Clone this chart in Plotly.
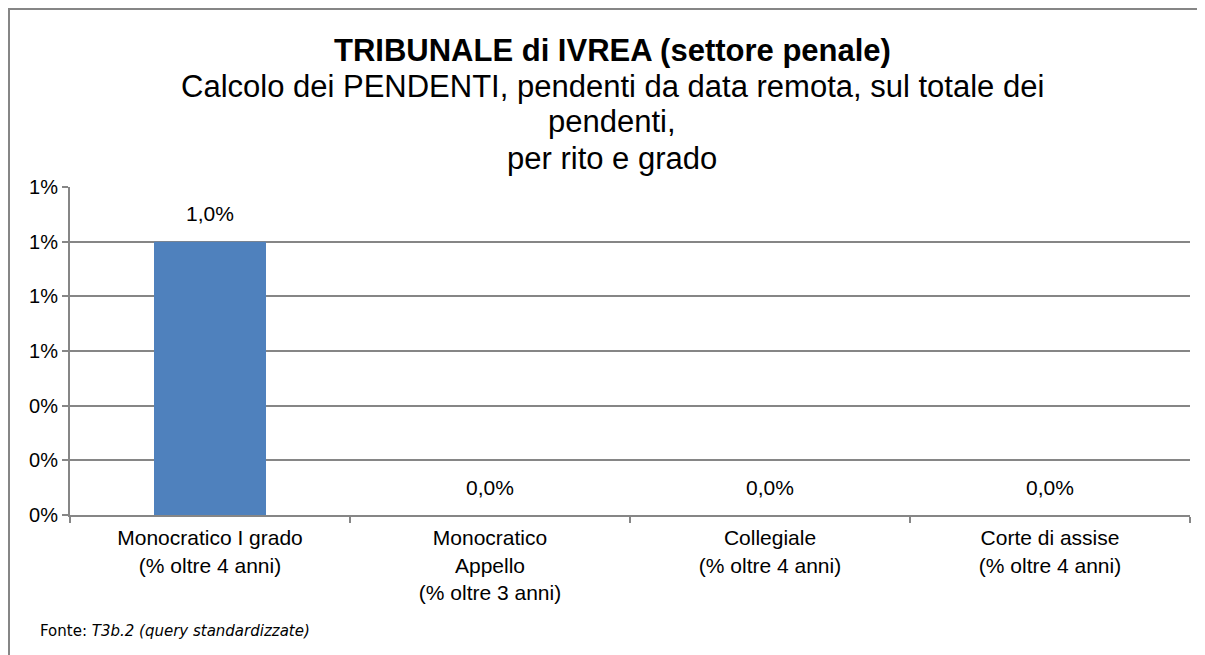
import plotly.graph_objects as go

categories = [
    "Monocratico I grado<br>(% oltre 4 anni)",
    "Monocratico<br>Appello<br>(% oltre 3 anni)",
    "Collegiale<br>(% oltre 4 anni)",
    "Corte di assise<br>(% oltre 4 anni)",
]
values = [0.010, 0.0, 0.0, 0.0]
y_tickvals = [0, 0.002, 0.004, 0.006, 0.008, 0.010, 0.012]

# page has an 8px body margin; figure sized to fit the window
OFF = 8
W, H = 1197, 647
L, T = 62, 179          # plot area left/top in figure px
PLOT_R, PLOT_B = 1182, 507
R, B = W - PLOT_R, H - PLOT_B
pw, ph = PLOT_R - L, PLOT_B - T

def px(x):  # page x -> paper
    return (x - OFF - L) / pw

def py(y):  # page y -> paper
    return (PLOT_B - (y - OFF)) / ph

FONT = "Liberation Sans, Arial, sans-serif"

fig = go.Figure()
fig.add_trace(go.Bar(
    x=categories, y=values,
    marker=dict(color="#4F81BD", line=dict(width=0)),
    width=0.4,
    hoverinfo="skip",
))

labels = [f"{v*100:.1f}%".replace(".", ",") for v in values]
annotations = []
for c, v, t in zip(categories, values, labels):
    annotations.append(dict(x=c, y=v, xref="x", yref="y", text=t, showarrow=False,
                            yshift=28, font=dict(family=FONT, size=21, color="#000")))

CX = px(612)
title_lines = [
    ("<b>TRIBUNALE di IVREA (settore penale)</b>", 50),
    ("Calcolo dei PENDENTI, pendenti da data remota, sul totale dei", 86),
    ("pendenti,", 122),
    ("per rito e grado", 158),
]
for txt, yy in title_lines:
    annotations.append(dict(x=CX, y=py(yy), xref="paper", yref="paper", showarrow=False,
                            text=txt, font=dict(family=FONT, size=31, color="#000"),
                            xanchor="center", yanchor="middle"))

annotations.append(dict(x=px(38), y=py(631), xref="paper", yref="paper", showarrow=False,
                        text="Fonte: <i>T3b.2 (query standardizzate)</i>",
                        font=dict(family="DejaVu Sans, Verdana, sans-serif", size=15, color="#000"),
                        xanchor="left", yanchor="middle"))

fig.update_layout(
    width=W, height=H,
    margin=dict(l=L, r=R, t=T, b=B),
    paper_bgcolor="white", plot_bgcolor="white",
    showlegend=False,
    separators=",.",
    annotations=annotations,
    shapes=[dict(type="rect", xref="paper", yref="paper",
                 x0=px(9), x1=px(1230), y0=py(680), y1=py(9),
                 line=dict(color="#868686", width=2), fillcolor="rgba(0,0,0,0)", layer="below")],
    xaxis=dict(
        showgrid=False, showline=True, linecolor="#868686", linewidth=2,
        ticks="outside", tickson="boundaries", ticklen=6, tickcolor="#868686", tickwidth=2,
        tickfont=dict(family=FONT, size=21, color="#000"),
        ticklabelstandoff=3,
    ),
    yaxis=dict(
        range=[0, 0.012], tickvals=y_tickvals, tickformat=".0%",
        showgrid=True, gridcolor="#868686", gridwidth=2,
        showline=True, linecolor="#868686", linewidth=2,
        ticks="outside", ticklen=6, tickcolor="#868686", tickwidth=2,
        tickfont=dict(family=FONT, size=20, color="#000"),
        zeroline=False,
    ),
    bargap=0.6,
)

fig.write_html("out.html")
